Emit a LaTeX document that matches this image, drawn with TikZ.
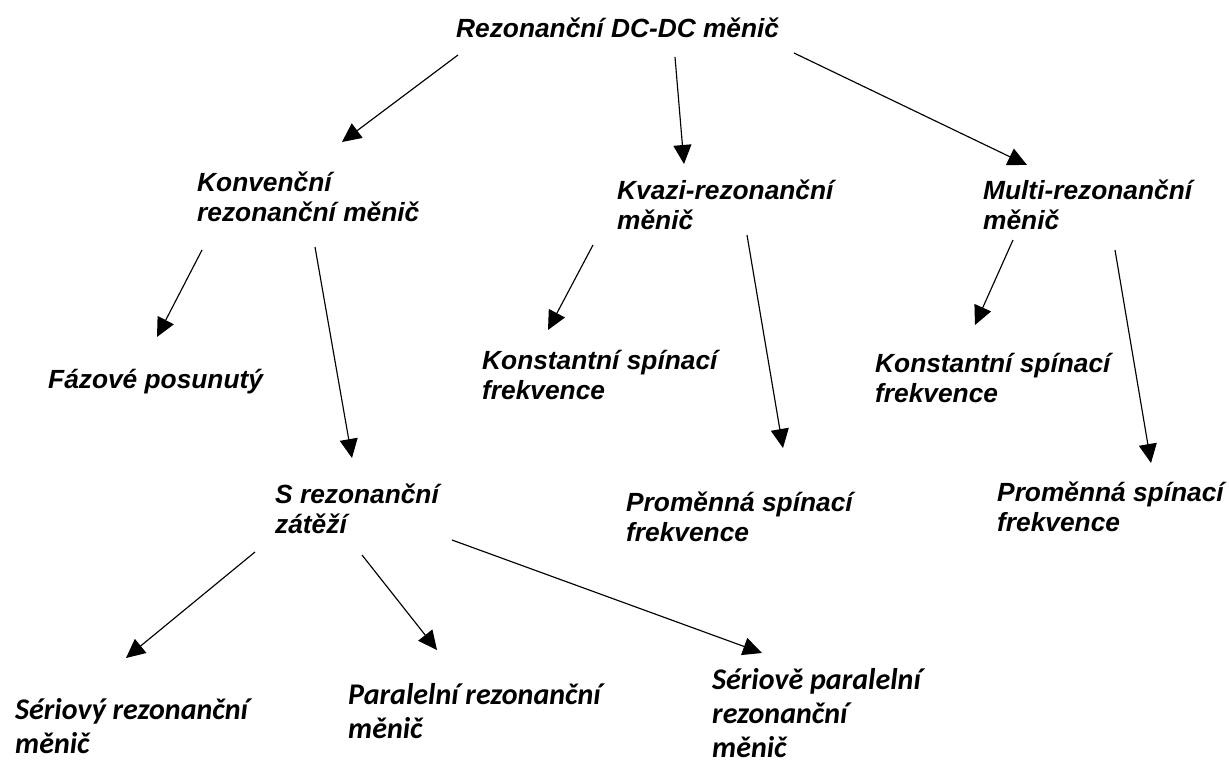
\documentclass[tikz,border=0pt]{standalone}
\usepackage{fontspec}
\setmainfont{Liberation Sans}
\newfontfamily\calfont{Carlito}
\usetikzlibrary{arrows.meta}
\newcommand\mlines[1]{\vtop{\halign{##\hfil\cr#1\crcr}}}
\tikzset{
  arial/.style={inner sep=0pt, anchor=base west, font=\fontsize{26.3}{30}\selectfont\bfseries\itshape},
  calib/.style={inner sep=0pt, anchor=base west, font=\fontsize{30}{34}\selectfont\calfont\bfseries\itshape},
  arr/.style={line width=1.15pt, -{Triangle[length=19pt,width=18pt]}},
}
\begin{document}
\begin{tikzpicture}[x=1pt,y=-1pt]
\useasboundingbox (0,0) rectangle (1229,765);
% texts
\node[arial] (top) at (456,38) {Rezonanční DC-DC měnič};
\node[arial] (konv) at (197,191) {\mlines{Konvenční\cr rezonanční měnič}};
\node[arial] (kvazi) at (617,200) {\mlines{Kvazi-rezonanční\cr měnič}};
\node[arial] (multi) at (983,200) {\mlines{Multi-rezonanční\cr měnič}};
\node[arial] (faz) at (48,388) {Fázové posunutý};
\node[arial] (konstm) at (482,369) {\mlines{Konstantní spínací\cr frekvence}};
\node[arial] (konstr) at (875,372) {\mlines{Konstantní spínací\cr frekvence}};
\node[arial] (srez) at (275,503) {\mlines{S rezonanční\cr zátěží}};
\node[arial] (promm) at (626,511) {\mlines{Proměnná spínací\cr frekvence}};
\node[arial] (promr) at (997,501) {\mlines{Proměnná spínací\cr frekvence}};
\node[calib] (serm) at (15,719) {\mlines{Sériový rezonanční\cr měnič}};
\node[calib] (parm) at (348,704) {\mlines{Paralelní rezonanční\cr měnič}};
\node[calib] (serpm) at (712,689) {\mlines{Sériově paralelní\cr rezonanční\cr měnič}};
% connector end points
\coordinate (top-a) at (458,55);   \coordinate (konv-in) at (342,142);
\coordinate (top-b) at (675,57);   \coordinate (kvazi-in) at (684,164);
\coordinate (top-c) at (794,53);   \coordinate (multi-in) at (1027,165);
\coordinate (konv-a) at (202,250); \coordinate (faz-in) at (157,337);
\coordinate (konv-b) at (315,247); \coordinate (srez-in) at (352,458);
\coordinate (kvazi-a) at (593,245); \coordinate (konstm-in) at (548,330);
\coordinate (kvazi-b) at (747,235); \coordinate (promm-in) at (783,448);
\coordinate (multi-a) at (1013,240); \coordinate (konstr-in) at (975,325);
\coordinate (multi-b) at (1115,250); \coordinate (promr-in) at (1151,463);
\coordinate (srez-a) at (255,552); \coordinate (serm-in) at (126,658);
\coordinate (srez-b) at (362,555); \coordinate (parm-in) at (437,650);
\coordinate (srez-c) at (452,540); \coordinate (serpm-in) at (762,653);
% connectors
\draw[arr] (top-a) -- (konv-in);
\draw[arr] (top-b) -- (kvazi-in);
\draw[arr] (top-c) -- (multi-in);
\draw[arr] (konv-a) -- (faz-in);
\draw[arr] (konv-b) -- (srez-in);
\draw[arr] (kvazi-a) -- (konstm-in);
\draw[arr] (kvazi-b) -- (promm-in);
\draw[arr] (multi-a) -- (konstr-in);
\draw[arr] (multi-b) -- (promr-in);
\draw[arr] (srez-a) -- (serm-in);
\draw[arr] (srez-b) -- (parm-in);
\draw[arr] (srez-c) -- (serpm-in);
\end{tikzpicture}
\end{document}
